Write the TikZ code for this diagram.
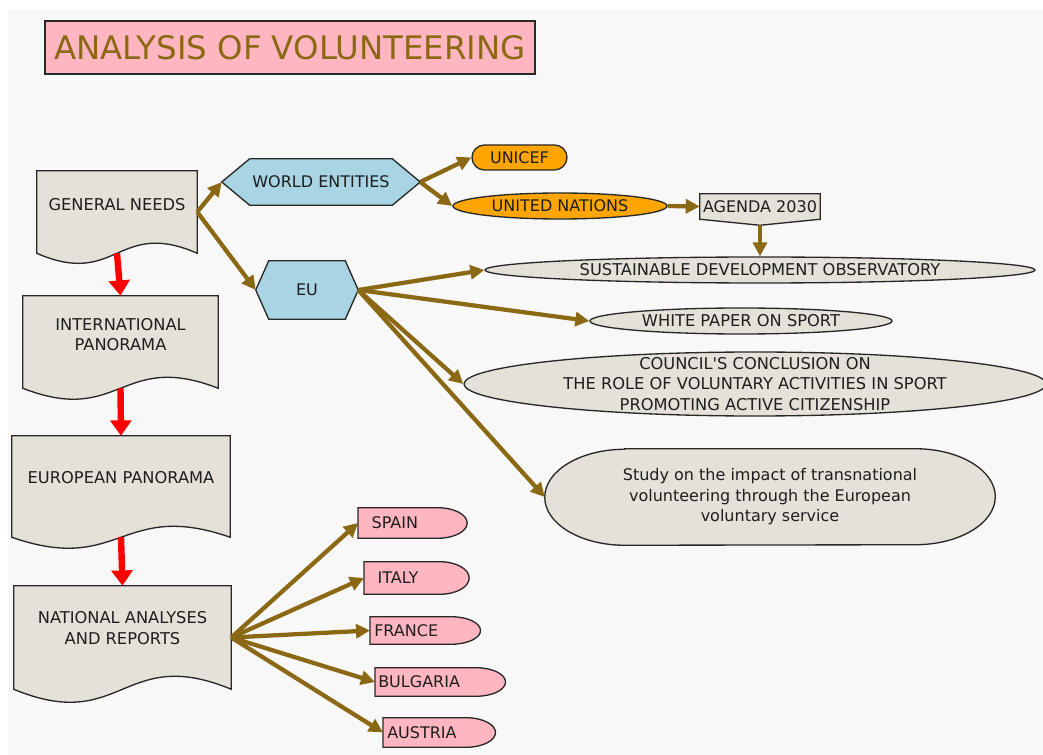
\documentclass[tikz,border=0pt]{standalone}
\usepackage{fontspec}
\setmainfont{DejaVu Sans}
\usetikzlibrary{shapes.geometric,arrows.meta,calc}
\definecolor{bgc}{RGB}{248,248,248}
\definecolor{brc}{RGB}{139,105,20}
\definecolor{docc}{RGB}{229,225,216}
\definecolor{hexc}{RGB}{168,212,228}
\definecolor{orc}{RGB}{255,165,0}
\definecolor{pkc}{RGB}{255,182,193}
\definecolor{edge}{RGB}{40,40,40}
\definecolor{txt}{RGB}{30,30,30}
\pgfdeclarelayer{back}
\pgfsetlayers{back,main}
\newcommand\docshape[2]{\path[docsh] (#1.north west) -- (#1.north east) -- (#1.south east) .. controls ($(#1.south)+(0,-#2)$) and ($(#1.south)+(0,#2)$) .. (#1.south west) -- cycle;}
\newcommand\hexshape[2]{\path[hexsh] (#1.west) -- ([xshift=#2]#1.north west) -- ([xshift=-#2]#1.north east) -- (#1.east) -- ([xshift=-#2]#1.south east) -- ([xshift=#2]#1.south west) -- cycle;}
\newcommand\dshape[1]{\path[dsh] let \p1=(#1.north east), \p2=(#1.south east) in (#1.south west) -- (#1.north west) -- ([xshift=-22pt]#1.north east) arc[start angle=90, end angle=-90, x radius=22pt, y radius={(\y1-\y2)/2}] -- cycle;}
\begin{document}
\begin{tikzpicture}[x=0.75pt,y=-0.75pt,
  every node/.style={font=\fontsize{12.2}{15.3}\selectfont, text=txt},
  frame/.style={rectangle, inner sep=0pt},
  doctext/.style={align=center, inner sep=0pt},
  docsh/.style={fill=docc, draw=edge, line width=1pt},
  hexsh/.style={fill=hexc, draw=edge, line width=1pt},
  dsh/.style={fill=pkc, draw=edge, line width=1pt},
  agsh/.style={fill=docc, draw=edge, line width=1pt},
  stsh/.style={fill=docc, draw=edge, line width=1pt},
  hexnode/.style={frame, font=\fontsize{12}{15}\selectfont},
  orng/.style={fill=orc, draw=edge, line width=1pt, inner sep=0pt, font=\fontsize{12}{15}\selectfont},
  ell/.style={ellipse, fill=docc, draw=edge, line width=1pt, inner sep=-12pt, align=center},
  cty/.style={frame, inner ysep=0pt, align=left, font=\fontsize{12}{15}\selectfont, anchor=west},
  titlebox/.style={fill=pkc, draw=edge, line width=1.2pt, inner sep=0pt, text=brc, font=\fontsize{24.3}{29}\selectfont},
  brarr/.style={draw=brc, line width=3.2pt, -{Triangle[length=10.5pt,width=10.5pt]}},
  redarr/.style={draw=red, line width=4.8pt, -{Triangle[length=11.5pt,width=15.5pt]}}]
\useasboundingbox (0,0) rectangle (1043,755);

\node[titlebox, minimum width=367.5pt, minimum height=39.75pt] (title) at (290,47.5) {ANALYSIS OF VOLUNTEERING};

\node[frame, minimum width=120pt, minimum height=61.5pt] (gn) at (117,212) {};
\node[doctext] (gnt) at (117,205) {GENERAL NEEDS};
\node[frame, minimum width=146.25pt, minimum height=69pt] (ip) at (120.5,342) {};
\node[doctext] (ipt) at (120.5,334.5) {INTERNATIONAL\\PANORAMA};
\node[frame, minimum width=163.5pt, minimum height=75.75pt] (ep) at (121,486.5) {};
\node[doctext] (ept) at (121,478) {EUROPEAN PANORAMA};
\node[frame, minimum width=162.75pt, minimum height=77.25pt] (na) at (122.5,637.5) {};
\node[doctext] (nat) at (122.5,628) {NATIONAL ANALYSES\\AND REPORTS};

\node[hexnode, minimum width=148.5pt, minimum height=34.5pt] (we) at (321,182) {WORLD ENTITIES};
\node[hexnode, minimum width=76.5pt, minimum height=43.5pt] (eu) at (307,290) {EU};

\node[orng, rounded corners=9.4pt, minimum width=71.25pt, minimum height=18.75pt] (unicef) at (519.5,157.5) {UNICEF};
\node[orng, ellipse, inner sep=-10pt, minimum width=160.5pt, minimum height=19.5pt] (un) at (560,206) {UNITED NATIONS};
\node[frame, minimum width=90pt, minimum height=18.75pt, font=\fontsize{12}{15}\selectfont] (ag) at (760,206.5) {AGENDA 2030};
\coordinate (agtip) at ([yshift=-4.5pt]ag.south);

\node[ell, minimum width=412.5pt, minimum height=19.5pt] (sdo) at (760,270) {SUSTAINABLE DEVELOPMENT OBSERVATORY};
\node[ell, minimum width=226.5pt, minimum height=19.5pt] (wp) at (741,321) {WHITE PAPER ON SPORT};
\node[ell, minimum width=436.5pt, minimum height=48pt] (cc) at (755,384) {COUNCIL\textquotesingle S CONCLUSION ON\\THE ROLE OF VOLUNTARY ACTIVITIES IN SPORT\\PROMOTING ACTIVE CITIZENSHIP};
\node[frame, align=center, minimum width=337.5pt, minimum height=72pt, font=\fontsize{12}{15.4}\selectfont] (st) at (770,497) {Study on the impact of transnational\\volunteering through the European\\voluntary service};

\node[cty, text width=61.5pt, inner xsep=10pt, minimum height=22.5pt] (es) at (358,523) {SPAIN};
\node[cty, text width=58.5pt, inner xsep=10pt, minimum height=24pt] (it) at (364,578) {ITALY};
\node[cty, text width=76.5pt, inner xsep=3pt, minimum height=20.25pt] (fr) at (370,630.5) {FRANCE};
\node[cty, text width=93pt, inner xsep=2.25pt, minimum height=21pt] (bg) at (375,682) {BULGARIA};
\node[cty, text width=78pt, inner xsep=3pt, minimum height=21.75pt] (at) at (383,732.5) {AUSTRIA};

\begin{pgfonlayer}{back}
  \fill[bgc] (8,10) rectangle (1043,755);
  \docshape{gn}{35}
  \docshape{ip}{38}
  \docshape{ep}{38}
  \docshape{na}{45}
  \hexshape{we}{21pt}
  \hexshape{eu}{9.75pt}
  \path[agsh] (ag.north west) -- (ag.north east) -- (ag.south east) -- (agtip) -- (ag.south west) -- cycle;
  \path[stsh] ([xshift=60pt]st.north west) -- ([xshift=-60pt]st.north east) arc[start angle=90, end angle=-90, x radius=60pt, y radius=36pt] -- ([xshift=60pt]st.south west) arc[start angle=270, end angle=90, x radius=60pt, y radius=36pt] -- cycle;
  \foreach \c in {es,it,fr,bg,at} {\dshape{\c}}
\end{pgfonlayer}

\draw[redarr] (gn.south) -- (ip.north);
\draw[redarr] (ip.south) -- (ep.north);
\draw[redarr] (ep.south) -- (na.north);

\draw[brarr] (gn.east) -- (we.west);
\draw[brarr] (gn.east) -- (eu.west);
\draw[brarr] (we.east) -- (unicef.west);
\draw[brarr] (we.east) -- (un.west);
\draw[brarr] (un.east) -- (ag.west);
\draw[brarr] (agtip) -- (sdo.north);
\draw[brarr] (eu.east) -- (sdo.west);
\draw[brarr] (eu.east) -- (wp.west);
\draw[brarr] (eu.east) -- (cc.west);
\draw[brarr] (eu.east) -- (st.west);
\foreach \c in {es,it,fr,bg,at} {\draw[brarr] (na.east) -- (\c.west);}
\end{tikzpicture}
\end{document}
